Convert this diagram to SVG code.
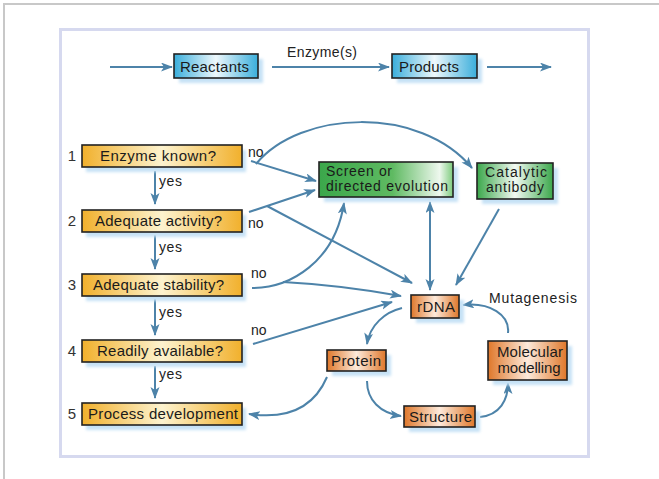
<svg xmlns="http://www.w3.org/2000/svg" width="659" height="479" viewBox="0 0 659 479">
<style>
.t{font-family:"Liberation Sans",Arial,sans-serif;font-size:15px;fill:#1a1a1a}
.t2{font-family:"Liberation Sans",Arial,sans-serif;font-size:14px;fill:#1a1a1a}
.s{font-family:"Liberation Sans",Arial,sans-serif;font-size:14px;fill:#222}
.n{font-family:"Liberation Sans",Arial,sans-serif;font-size:15px;fill:#333}
.box{stroke:#222;stroke-width:1.6}
.sh{fill:#c6e2f6;filter:url(#blur)}
.c{fill:none;stroke:#4d83a9;stroke-width:2}
.a{marker-end:url(#ah)}
</style>
<defs>
<filter id="blur" x="-10%" y="-30%" width="120%" height="160%"><feGaussianBlur stdDeviation="1.5"/></filter>
<linearGradient id="gB" x1="0" x2="1" y1="0" y2="0"><stop offset="0" stop-color="#3aaedb"/><stop offset="0.5" stop-color="#eef8fc"/><stop offset="1" stop-color="#3aaedb"/></linearGradient>
<linearGradient id="gY" x1="0" x2="1" y1="0" y2="0"><stop offset="0" stop-color="#f1b02c"/><stop offset="0.5" stop-color="#fdf3cf"/><stop offset="1" stop-color="#f1b02c"/></linearGradient>
<linearGradient id="gG1" x1="0" x2="1" y1="0" y2="0"><stop offset="0" stop-color="#3ba74b"/><stop offset="0.55" stop-color="#5fba62"/><stop offset="0.9" stop-color="#eef8ee"/><stop offset="1" stop-color="#7ccb7c"/></linearGradient>
<linearGradient id="gG2" x1="0" x2="1" y1="0" y2="0"><stop offset="0" stop-color="#3ba74b"/><stop offset="0.5" stop-color="#f3faf3"/><stop offset="1" stop-color="#3ba74b"/></linearGradient>
<linearGradient id="gO" x1="0" x2="1" y1="0" y2="0"><stop offset="0" stop-color="#df772a"/><stop offset="0.5" stop-color="#fdeadb"/><stop offset="1" stop-color="#df772a"/></linearGradient>
<marker id="ah" markerUnits="userSpaceOnUse" markerWidth="12" markerHeight="10" refX="11" refY="4.5" orient="auto"><path d="M0,0 L12,4.5 L0,9 L3,4.5 z" fill="#4d83a9"/></marker>
<marker id="ahs" markerUnits="userSpaceOnUse" markerWidth="12" markerHeight="10" refX="11" refY="4.5" orient="auto-start-reverse"><path d="M0,0 L12,4.5 L0,9 L3,4.5 z" fill="#4d83a9"/></marker>
</defs>
<rect width="659" height="479" fill="#fff"/>
<path d="M4,479 L4,4 L659,4" fill="none" stroke="#c8c8c8" stroke-width="2"/>
<rect x="60.5" y="29.5" width="528" height="427" fill="#fff" stroke="#d6d9ef" stroke-width="3"/>

<g id="connectors">
<path class="c a" d="M110,67 L172,67"/>
<path class="c a" d="M272,67 L389,67"/>
<path class="c a" d="M487,67 L551,67"/>
<path class="c a" d="M155,171 L155,204"/>
<path class="c a" d="M155,235 L155,269"/>
<path class="c a" d="M155,299 L155,335"/>
<path class="c a" d="M155,366 L155,398"/>
<path class="c a" d="M251,161 L316,181"/>
<path class="c a" d="M256,164 C300,110 420,105 472,168"/>
<path class="c a" d="M249,212 L315,190"/>
<path class="c a" d="M267,206 L412,283"/>
<path class="c a" d="M252,288 C290,288 335,262 344,203"/>
<path class="c a" d="M283,282 Q340,285 401,296"/>
<path class="c a" d="M253,344 L392,302"/>
<path class="c" marker-start="url(#ahs)" marker-end="url(#ah)" d="M430,202 L430,290"/>
<path class="c a" d="M499,209 L456,285"/>
<path class="c a" d="M402,308 C385,312 370,325 367,344"/>
<path class="c a" d="M367,381 C367,400 380,413 401,416"/>
<path class="c a" d="M480,417 C500,415 508,400 508,383"/>
<path class="c a" d="M508,333 C510,315 490,302 463,305"/>
<path class="c a" d="M327,377 C315,405 290,420 249,414"/>
<text class="s" x="287" y="57" textLength="70">Enzyme(s)</text>
<text class="s" x="159" y="186" textLength="23">yes</text>
<text class="s" x="159" y="252" textLength="23">yes</text>
<text class="s" x="159" y="317" textLength="23">yes</text>
<text class="s" x="159" y="379" textLength="23">yes</text>
<text class="s" x="248" y="157">no</text>
<text class="s" x="248" y="228">no</text>
<text class="s" x="251" y="278">no</text>
<text class="s" x="251" y="335">no</text>
<text class="s" x="489" y="303" textLength="88">Mutagenesis</text>
</g>

<g id="reactants"><rect class="sh" x="179" y="59" width="84" height="24"/><rect class="box" x="174" y="54" width="84" height="24" fill="url(#gB)"/><text class="t" x="214.5" y="71.5" text-anchor="middle" textLength="69">Reactants</text></g>
<g id="products"><rect class="sh" x="397" y="59" width="85" height="24"/><rect class="box" x="392" y="54" width="85" height="24" fill="url(#gB)"/><text class="t" x="429" y="71.5" text-anchor="middle" textLength="60">Products</text></g>

<g id="q1"><text class="n" x="72" y="161" text-anchor="middle">1</text><rect class="sh" x="86" y="150" width="160" height="22"/><rect class="box" x="82" y="145" width="160" height="22" fill="url(#gY)"/><text class="t" x="158" y="161" text-anchor="middle" textLength="116">Enzyme known?</text></g>
<g id="q2"><text class="n" x="72" y="226" text-anchor="middle">2</text><rect class="sh" x="86" y="215" width="160" height="22"/><rect class="box" x="82" y="210" width="160" height="22" fill="url(#gY)"/><text class="t" x="158.5" y="226" text-anchor="middle" textLength="127">Adequate activity?</text></g>
<g id="q3"><text class="n" x="72" y="290" text-anchor="middle">3</text><rect class="sh" x="86" y="279" width="160" height="22"/><rect class="box" x="82" y="274" width="160" height="22" fill="url(#gY)"/><text class="t" x="158.5" y="290" text-anchor="middle" textLength="131">Adequate stability?</text></g>
<g id="q4"><text class="n" x="72" y="356" text-anchor="middle">4</text><rect class="sh" x="86" y="345" width="160" height="22"/><rect class="box" x="82" y="340" width="160" height="22" fill="url(#gY)"/><text class="t" x="160" y="356" text-anchor="middle" textLength="126">Readily available?</text></g>
<g id="q5"><text class="n" x="72" y="419" text-anchor="middle">5</text><rect class="sh" x="86" y="408" width="160" height="22"/><rect class="box" x="82" y="403" width="160" height="22" fill="url(#gY)"/><text class="t" x="163" y="419" text-anchor="middle" textLength="150">Process development</text></g>

<g id="screen"><rect class="sh" x="324" y="167" width="134" height="35"/><rect class="box" x="319" y="162" width="134" height="35" fill="url(#gG1)"/><text class="t2" x="326" y="176" textLength="66">Screen or</text><text class="t2" x="326" y="191" textLength="122">directed evolution</text></g>
<g id="catalytic"><rect class="sh" x="482" y="168" width="76" height="36"/><rect class="box" x="477" y="163" width="76" height="36" fill="url(#gG2)"/><text class="t2" x="516" y="177" text-anchor="middle" textLength="62">Catalytic</text><text class="t2" x="515" y="192" text-anchor="middle" textLength="58">antibody</text></g>

<g id="rdna"><rect class="sh" x="416" y="300" width="48" height="23"/><rect class="box" x="411" y="295" width="48" height="23" fill="url(#gO)"/><text class="t" x="436" y="311.5" text-anchor="middle" textLength="38">rDNA</text></g>
<g id="protein"><rect class="sh" x="332" y="355" width="59" height="21"/><rect class="box" x="327" y="350" width="59" height="21" fill="url(#gO)"/><text class="t" x="356" y="365.5" text-anchor="middle" textLength="50">Protein</text></g>
<g id="structure"><rect class="sh" x="409" y="411" width="71" height="21"/><rect class="box" x="404" y="406" width="71" height="21" fill="url(#gO)"/><text class="t" x="440.5" y="421.5" text-anchor="middle" textLength="63">Structure</text></g>
<g id="modelling"><rect class="sh" x="493" y="346" width="79" height="39"/><rect class="box" x="488" y="341" width="79" height="39" fill="url(#gO)"/><text class="t" x="530" y="357" text-anchor="middle" textLength="66">Molecular</text><text class="t" x="529" y="373" text-anchor="middle" textLength="63">modelling</text></g>
</svg>
